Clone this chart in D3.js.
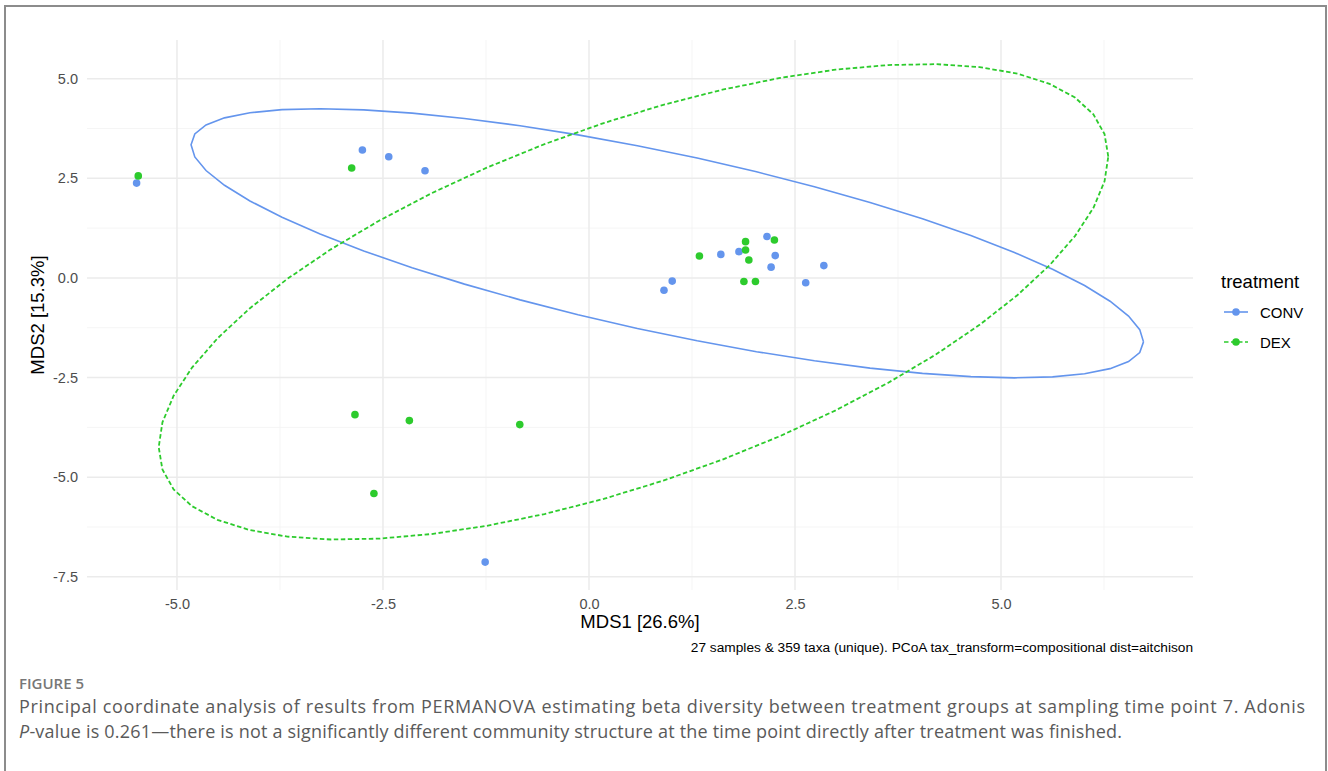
<!DOCTYPE html>
<html>
<head>
<meta charset="utf-8">
<script src="https://cdn.jsdelivr.net/npm/d3@7"></script>
<style>
  body { margin: 0; background: #fff; }
  svg { display: block; }
</style>
</head>
<body>
<script>
(function(){

    //sample coordinates
    var convX = [-5.49, -2.75, -2.43, -1.99, 0.91, 1.01, 1.60, 1.82, 2.16, 2.26, 2.21, 2.63, 2.85, -1.26];
    var convY = [2.38, 3.21, 3.04, 2.69, -0.31, -0.08, 0.59, 0.66, 1.04, 0.56, 0.27, -0.12, 0.31, -7.13];
    var dexX = [-5.47, -2.88, 1.34, 1.90, 1.90, 1.94, 1.88, 2.02, 2.25, -2.84, -2.18, -0.84, -2.61];
    var dexY = [2.56, 2.76, 0.55, 0.91, 0.70, 0.45, -0.09, -0.09, 0.95, -3.43, -3.58, -3.68, -5.41];

    //ellipse centre and shape matrix [sxx, sxy, syy] for each group
    var convCentre = [0.95, 0.87];
    var convShape = [33.4, -14.3, 11.4];
    var dexCentre = [0.54, -0.60];
    var dexShape = [33.2, 21.0, 35.6];

    var groups = ["CONV", "DEX"];
    var colors = ["#6495ED", "#2DCB2D"];

    var xTicks = [-5.0, -2.5, 0.0, 2.5, 5.0];
    var yTicks = [5.0, 2.5, 0.0, -2.5, -5.0, -7.5];
    var xMinor = [-3.75, -1.25, 1.25, 3.75, 6.25];
    var yMinor = [3.75, 1.25, -1.25, -3.75, -6.25];

    var width = 1328, height = 771;
    var left = 87, right = 1193, top = 40, bottom = 590;

    var svg = d3.select("body").append("svg")
        .attr("width", width)
        .attr("height", height);

    //outer frame
    svg.append("rect")
        .attr("x", 5).attr("y", 6)
        .attr("width", 1321).attr("height", 800)
        .attr("fill", "none")
        .attr("stroke", "#8c8c8c")
        .attr("stroke-width", 2);

    var x = d3.scaleLinear().domain([-6.092, 7.33]).range([left, right]);
    var y = d3.scaleLinear().domain([-7.83, 5.97]).range([bottom, top]);

    //grid
    var grid = svg.append("g");
    grid.selectAll(".minorX").data(xMinor).enter().append("line")
        .attr("x1", function(d){ return x(d); }).attr("x2", function(d){ return x(d); })
        .attr("y1", top).attr("y2", bottom)
        .attr("stroke", "#f2f2f2").attr("stroke-width", 0.8);
    grid.selectAll(".minorY").data(yMinor).enter().append("line")
        .attr("y1", function(d){ return y(d); }).attr("y2", function(d){ return y(d); })
        .attr("x1", left).attr("x2", right)
        .attr("stroke", "#f2f2f2").attr("stroke-width", 0.8);
    grid.selectAll(".majorX").data(xTicks).enter().append("line")
        .attr("x1", function(d){ return x(d); }).attr("x2", function(d){ return x(d); })
        .attr("y1", top).attr("y2", bottom)
        .attr("stroke", "#ebebeb").attr("stroke-width", 1.5);
    grid.selectAll(".majorY").data(yTicks).enter().append("line")
        .attr("y1", function(d){ return y(d); }).attr("y2", function(d){ return y(d); })
        .attr("x1", left).attr("x2", right)
        .attr("stroke", "#ebebeb").attr("stroke-width", 1.5);

    //axes (plain hyphen for negatives, like R)
    var fmt = function(d){ return d.toFixed(1); };
    var xAxis = svg.append("g")
        .attr("transform", "translate(0," + bottom + ")")
        .call(d3.axisBottom(x).tickValues(xTicks).tickSize(0).tickPadding(9).tickFormat(fmt));
    var yAxis = svg.append("g")
        .attr("transform", "translate(" + left + ",0)")
        .call(d3.axisLeft(y).tickValues(yTicks).tickSize(0).tickPadding(9).tickFormat(fmt));
    [xAxis, yAxis].forEach(function(a){
        a.select(".domain").remove();
        a.selectAll("text")
            .attr("fill", "#4d4d4d")
            .style("font-family", "'Liberation Sans', Arial, sans-serif")
            .style("font-size", "14.5px");
    });

    //ellipse outline, 51 points like stat_ellipse
    function ellipsePoints(centre, shape){
        var r11 = Math.sqrt(shape[0]),
            r12 = shape[1] / r11,
            r22 = Math.sqrt(shape[2] - r12 * r12);
        return d3.range(51).map(function(i){
            var t = i / 50 * 2 * Math.PI,
                c = Math.cos(t), s = Math.sin(t);
            return [centre[0] + c * r11, centre[1] + c * r12 + s * r22];
        });
    }

    var line = d3.line()
        .x(function(d){ return x(d[0]); })
        .y(function(d){ return y(d[1]); });

    svg.append("path")
        .attr("d", line(ellipsePoints(convCentre, convShape)))
        .attr("fill", "none")
        .attr("stroke", colors[0])
        .attr("stroke-width", 1.6);

    svg.append("path")
        .attr("d", line(ellipsePoints(dexCentre, dexShape)))
        .attr("fill", "none")
        .attr("stroke", colors[1])
        .attr("stroke-width", 1.8)
        .attr("stroke-dasharray", "4.5,2.5");

    //points
    var conv = convX.map(function(v, i){ return [v, convY[i]]; });
    var dex = dexX.map(function(v, i){ return [v, dexY[i]]; });

    svg.selectAll(".conv").data(conv).enter().append("circle")
        .attr("cx", function(d){ return x(d[0]); })
        .attr("cy", function(d){ return y(d[1]); })
        .attr("r", 3.8)
        .attr("fill", colors[0]);
    svg.selectAll(".dex").data(dex).enter().append("circle")
        .attr("cx", function(d){ return x(d[0]); })
        .attr("cy", function(d){ return y(d[1]); })
        .attr("r", 3.8)
        .attr("fill", colors[1]);

    //axis titles
    svg.append("text")
        .attr("x", (left + right) / 2).attr("y", 628)
        .attr("text-anchor", "middle")
        .style("font-family", "'Liberation Sans', Arial, sans-serif")
        .style("font-size", "18.5px")
        .text("MDS1 [26.6%]");
    svg.append("text")
        .attr("transform", "translate(44," + (top + bottom) / 2 + ") rotate(-90)")
        .attr("text-anchor", "middle")
        .style("font-family", "'Liberation Sans', Arial, sans-serif")
        .style("font-size", "18.5px")
        .text("MDS2 [15.3%]");

    svg.append("text")
        .attr("x", right).attr("y", 652)
        .attr("text-anchor", "end")
        .style("font-family", "'Liberation Sans', Arial, sans-serif")
        .style("font-size", "13.7px")
        .text("27 samples & 359 taxa (unique). PCoA tax_transform=compositional dist=aitchison");

    //legend
    var legend = svg.append("g");
    legend.append("text")
        .attr("x", 1221).attr("y", 288)
        .style("font-family", "'Liberation Sans', Arial, sans-serif")
        .style("font-size", "18.5px")
        .text("treatment");
    var keys = legend.selectAll(".key").data(groups).enter().append("g")
        .attr("transform", function(d, i){ return "translate(1224," + (312 + i * 30) + ")"; });
    keys.append("line")
        .attr("x1", 0).attr("x2", 24)
        .attr("stroke", function(d, i){ return colors[i]; })
        .attr("stroke-width", 1.6)
        .attr("stroke-dasharray", function(d, i){ return i ? "4.5,2.5" : null; });
    keys.append("circle")
        .attr("cx", 12).attr("r", 3.8)
        .attr("fill", function(d, i){ return colors[i]; });
    keys.append("text")
        .attr("x", 36).attr("y", 5.5)
        .style("font-family", "'Liberation Sans', Arial, sans-serif")
        .style("font-size", "15px")
        .text(function(d){ return d; });

    //figure caption
    var cap = svg.append("g")
        .style("font-family", "'Open Sans', sans-serif");
    cap.append("text")
        .attr("x", 19).attr("y", 689)
        .attr("fill", "#777")
        .style("font-size", "15px")
        .style("font-weight", 600)
        .text("FIGURE 5");
    cap.append("text")
        .attr("x", 19).attr("y", 713)
        .attr("fill", "#5a5a5a")
        .attr("textLength", 1286)
        .attr("lengthAdjust", "spacing")
        .style("font-size", "18px")
        .text("Principal coordinate analysis of results from PERMANOVA estimating beta diversity between treatment groups at sampling time point 7. Adonis");
    var l2 = cap.append("text")
        .attr("x", 19).attr("y", 738)
        .attr("fill", "#5a5a5a")
        .attr("textLength", 1103)
        .attr("lengthAdjust", "spacing")
        .style("font-size", "18px");
    l2.append("tspan").style("font-style", "italic").text("P");
    l2.append("tspan").text("-value is 0.261\u2014there is not a significantly different community structure at the time point directly after treatment was finished.");

})();
</script>
</body>
</html>
